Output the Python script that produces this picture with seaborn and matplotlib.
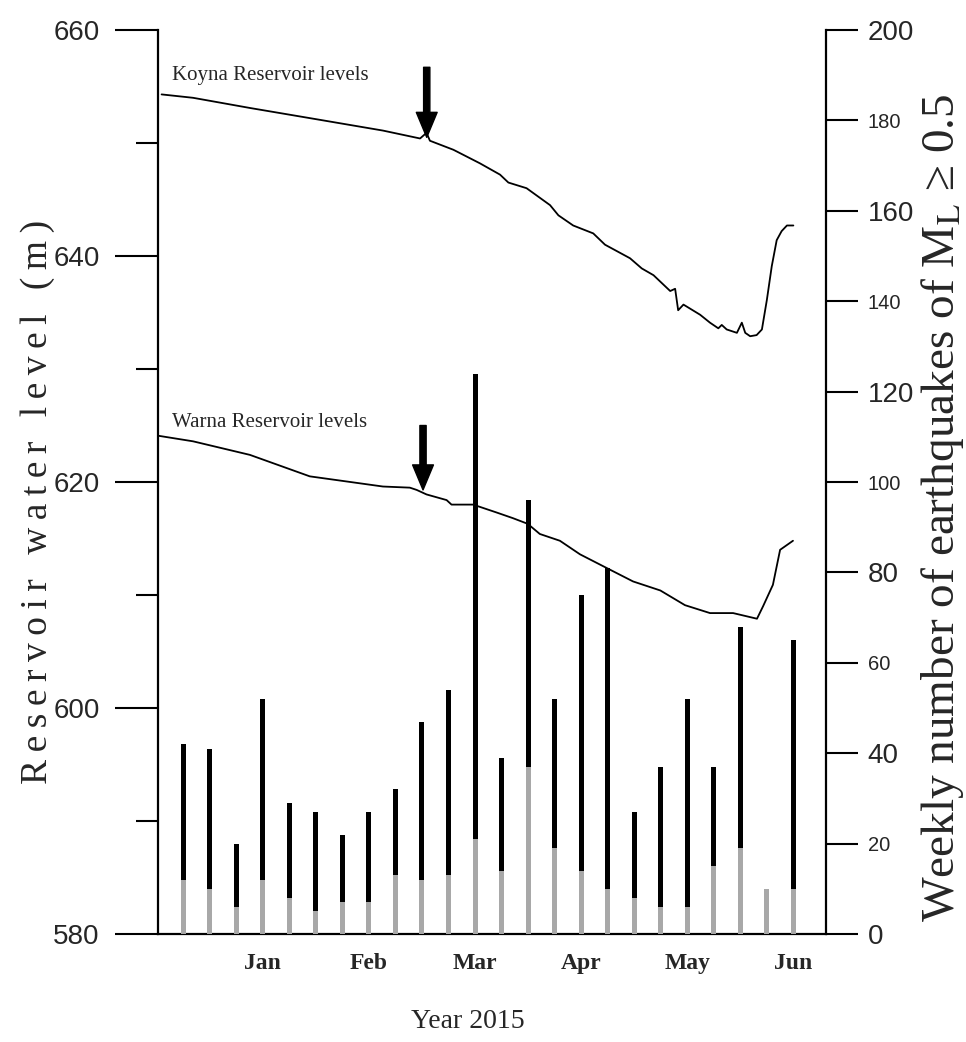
import numpy as np
import pandas as pd
import seaborn as sns
import matplotlib.pyplot as plt
from matplotlib.ticker import MultipleLocator

# ---- weekly earthquake counts (M_L >= 0.5) ----
weeks = list(range(1, 25))
total_counts = [42, 41, 20, 52, 29, 27, 22, 27, 32, 47, 54, 124,
                39, 96, 52, 75, 81, 27, 37, 52, 37, 68, 10, 65]
lower_counts = [12, 10, 6, 12, 8, 5, 7, 7, 13, 12, 13, 21,
                14, 37, 19, 14, 10, 8, 6, 6, 15, 19, 10, 10]

# ---- reservoir levels (day offset, level in m) ----
koyna_day = [1.3, 9.6, 24.6, 42.2, 59.7, 69.5, 71.2, 72.1, 78.3, 85.3, 90.6,
             92.8, 97.6, 103.8, 106.0, 109.9, 115.2, 118.3, 124.9, 128.0,
             131.1, 135.5, 136.8, 137.6, 139.0, 143.4, 146.0, 148.2, 149.1,
             150.4, 153.1, 154.4, 155.3, 156.6, 158.3, 159.7, 161.0, 162.3,
             163.6, 164.9, 166.3, 168.0]
koyna_level = [654.3, 654.0, 653.1, 652.1, 651.1, 650.4, 650.9, 650.2, 649.4,
               648.2, 647.2, 646.5, 646.0, 644.5, 643.6, 642.7, 642.0, 641.0,
               639.8, 638.9, 638.3, 636.9, 637.1, 635.2, 635.7, 634.8, 634.1,
               633.6, 633.9, 633.5, 633.2, 634.1, 633.2, 632.9, 633.0, 633.5,
               636.1, 639.1, 641.4, 642.2, 642.7, 642.7]

warna_day = [0.3, 9.6, 24.6, 40.4, 59.7, 66.8, 68.6, 71.2, 76.5, 77.8, 83.5,
             89.7, 94.0, 97.9, 101.1, 106.4, 111.7, 118.1, 125.7, 132.9,
             139.4, 146.0, 152.1, 158.4, 160.0, 162.6, 164.5, 167.9]
warna_level = [624.1, 623.6, 622.4, 620.5, 619.6, 619.5, 619.3, 618.9, 618.4,
               618.0, 618.0, 617.3, 616.8, 616.3, 615.4, 614.8, 613.6, 612.5,
               611.2, 610.4, 609.1, 608.4, 608.4, 607.9, 609.0, 610.9, 614.0,
               614.8]

# ---- axis labels / ticks ----
month_weeks = [4, 8, 12, 16, 20, 24]
month_names = ["Jan", "Feb", "Mar", "Apr", "May", "Jun"]
left_ticks = [580, 600, 620, 640, 660]
right_ticks = list(range(0, 201, 20))

sns.set_style("ticks")
plt.rcParams['font.family'] = ['Liberation Serif', 'DejaVu Sans']
plt.rcParams['mathtext.fontset'] = 'stix'

fig = plt.figure(figsize=(9.66, 10.42), dpi=100)
ax = fig.add_axes([158 / 966, 1 - 934 / 1042, 668 / 966, 904 / 1042])
ax2 = ax.twinx()

# bars: full weekly count in black, lower part in grey
sns.barplot(x=weeks, y=total_counts, native_scale=True, width=0.19,
            color="black", saturation=1, errorbar=None, linewidth=0, ax=ax2)
sns.barplot(x=weeks, y=lower_counts, native_scale=True, width=0.19,
            color="#a8a8a8", saturation=1, errorbar=None, linewidth=0, ax=ax2)

# reservoir level curves
sns.lineplot(x=np.array(koyna_day) / 7, y=koyna_level, ax=ax, color="black",
             linewidth=1.3, sort=False, estimator=None)
sns.lineplot(x=np.array(warna_day) / 7, y=warna_level, ax=ax, color="black",
             linewidth=1.3, sort=False, estimator=None)

ax.set_xlim(0.05, 25.23)
ax.set_ylim(580, 660)
ax2.set_ylim(0, 200)

# left axis
ax.set_yticks(left_ticks)
ax.yaxis.set_minor_locator(MultipleLocator(10))
ax.set_yticklabels([str(v) for v in left_ticks],
                   family=['Liberation Sans Narrow', 'Liberation Sans', 'DejaVu Sans'],
                   fontsize=20)
ax.tick_params(axis='y', which='major', length=31, width=1.5, pad=11, color='black')
ax.tick_params(axis='y', which='minor', length=16, width=1.5, color='black')

# right axis with alternating label sizes
ax2.set_yticks(right_ticks)
ax2.set_yticklabels([str(v) for v in right_ticks],
                    family=['Liberation Sans', 'DejaVu Sans'])
for v, lab in zip(right_ticks, ax2.get_yticklabels()):
    lab.set_fontsize(20 if v % 40 == 0 else 14.5)
ax2.tick_params(axis='y', length=23, width=1.5, pad=7, color='black')

# x axis: month labels only
ax.set_xticks(month_weeks)
ax.set_xticklabels(month_names, fontweight='bold', fontsize=17)
ax.tick_params(axis='x', length=0, pad=14)
ax2.tick_params(axis='x', length=0)

for a in (ax, ax2):
    a.spines['top'].set_visible(False)
    for s in a.spines.values():
        s.set_linewidth(1.6)
        s.set_color('black')
ax.spines['right'].set_visible(False)
ax2.spines['left'].set_visible(False)
ax2.spines['bottom'].set_visible(False)

# axis titles
ax.set_xlabel("Year 2015", fontsize=20)
ax.xaxis.set_label_coords((468 - 158) / 668, (934 - 1022) / 904)
ax.xaxis.label.set_va('center')

ax.set_ylabel("\u2009".join("Reservoir water level (m)"), fontsize=27)
ax.yaxis.set_label_coords((38 - 158) / 668, 0.478)
ax.yaxis.label.set_va('center')

ax2.set_ylabel("Weekly number of earthquakes of M$_{\\rm L}$ \u2265 0.5", fontsize=34)
ax2.yaxis.set_label_coords((942 - 158) / 668, 0.472)
ax2.yaxis.label.set_va('center')

# curve annotations
ax.text(0.56, 655.6, "Koyna Reservoir levels", fontsize=15, va='baseline')
ax.text(0.56, 624.9, "Warna Reservoir levels", fontsize=15, va='baseline')

arrow_style = dict(width=4.5, headwidth=15, headlength=18, facecolor='black',
                   edgecolor='black', shrink=0)
ax.annotate("", xy=(10.18, 650.5), xytext=(10.18, 656.7), arrowprops=arrow_style)
ax.annotate("", xy=(10.04, 619.3), xytext=(10.04, 625.0), arrowprops=arrow_style)

fig.savefig("out.png", dpi=100)
